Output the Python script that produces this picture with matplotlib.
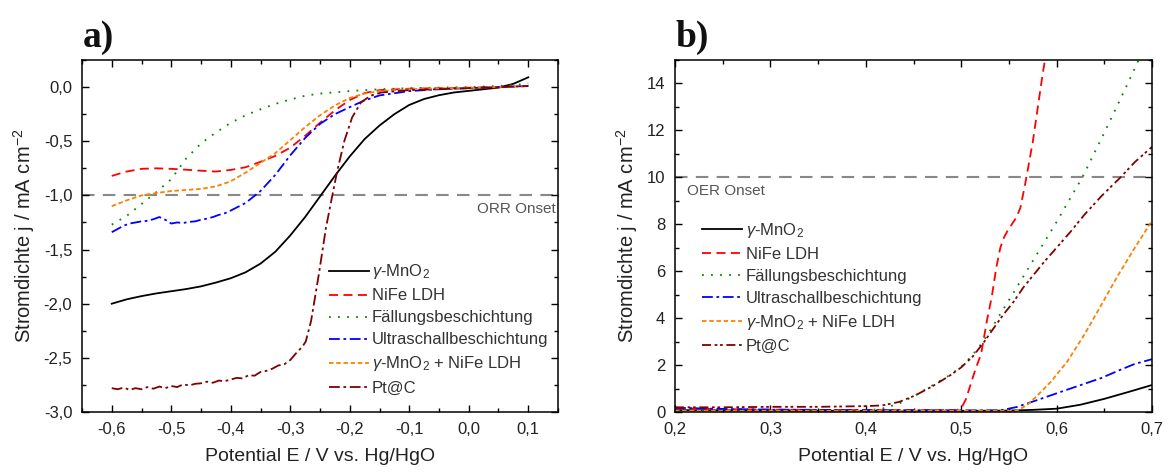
import matplotlib
matplotlib.use("Agg")
import matplotlib.pyplot as plt
from matplotlib.ticker import MultipleLocator, FuncFormatter

plt.rcParams.update({
    "font.family": ["Liberation Sans", "DejaVu Sans"],
    "mathtext.fontset": "custom",
    "mathtext.rm": "Liberation Sans",
    "mathtext.it": "Liberation Sans:italic",
    "mathtext.default": "regular",
    "axes.unicode_minus": False,
})

# ---------------- ORR (panel a) ----------------
orr_mno2_x = [-0.6, -0.575, -0.55, -0.525, -0.5, -0.475, -0.45, -0.425, -0.4, -0.375,
              -0.35, -0.325, -0.3, -0.275, -0.25, -0.225, -0.2, -0.175, -0.15, -0.125,
              -0.1, -0.075, -0.05, -0.025, 0.0, 0.025, 0.05, 0.075, 0.1]
orr_mno2_y = [-2.0, -1.96, -1.93, -1.905, -1.885, -1.865, -1.84, -1.805, -1.765, -1.71,
              -1.63, -1.52, -1.37, -1.2, -1.01, -0.82, -0.64, -0.48, -0.355, -0.25,
              -0.165, -0.11, -0.075, -0.05, -0.035, -0.02, -0.005, 0.03, 0.09]

orr_nife_x = [-0.6, -0.575, -0.55, -0.525, -0.5, -0.475, -0.45, -0.425, -0.4, -0.375,
              -0.35, -0.325, -0.3, -0.275, -0.25, -0.225, -0.2, -0.175, -0.15, -0.1,
              -0.05, 0.0, 0.05, 0.1]
orr_nife_y = [-0.82, -0.78, -0.755, -0.75, -0.755, -0.763, -0.772, -0.78, -0.765, -0.74,
              -0.69, -0.635, -0.56, -0.45, -0.33, -0.215, -0.12, -0.055, -0.028, -0.015,
              -0.01, -0.006, -0.002, 0.01]

orr_faell_x = [-0.6, -0.575, -0.55, -0.525, -0.5, -0.475, -0.45, -0.425, -0.4, -0.375,
               -0.35, -0.325, -0.3, -0.275, -0.25, -0.2, -0.15, -0.1, -0.05, 0.0, 0.05, 0.1]
orr_faell_y = [-1.27, -1.19, -1.08, -0.97, -0.85, -0.66, -0.52, -0.42, -0.33, -0.26,
               -0.205, -0.155, -0.115, -0.08, -0.06, -0.037, -0.02, -0.01, -0.005, 0.0, 0.01, 0.03]

orr_ultra_x = [-0.6, -0.59, -0.58, -0.57, -0.56, -0.55, -0.54, -0.53, -0.52, -0.51,
               -0.5, -0.49, -0.48, -0.47, -0.46, -0.45, -0.44, -0.43, -0.42, -0.41,
               -0.4, -0.375, -0.35, -0.325, -0.3, -0.275, -0.25, -0.225, -0.2, -0.175,
               -0.15, -0.1, -0.05, 0.0, 0.05, 0.1]
orr_ultra_y = [-1.34, -1.31, -1.28, -1.26, -1.25, -1.24, -1.235, -1.22, -1.2, -1.225,
               -1.26, -1.25, -1.255, -1.245, -1.24, -1.225, -1.215, -1.2, -1.18, -1.165,
               -1.14, -1.07, -0.96, -0.81, -0.63, -0.47, -0.34, -0.25, -0.185, -0.123,
               -0.077, -0.037, -0.02, -0.01, 0.0, 0.01]

orr_mix_x = [-0.6, -0.575, -0.55, -0.525, -0.5, -0.475, -0.45, -0.425, -0.4, -0.375,
             -0.35, -0.325, -0.3, -0.275, -0.25, -0.225, -0.2, -0.175, -0.15, -0.1,
             -0.05, 0.0, 0.05, 0.1]
orr_mix_y = [-1.10, -1.046, -1.0, -0.978, -0.96, -0.95, -0.94, -0.917, -0.87, -0.79,
             -0.70, -0.61, -0.49, -0.37, -0.26, -0.17, -0.1, -0.06, -0.037, -0.02,
             -0.012, -0.006, 0.0, 0.01]

orr_pt_x = [-0.6, -0.59, -0.58, -0.57, -0.56, -0.55, -0.54, -0.53, -0.52, -0.51,
            -0.5, -0.49, -0.48, -0.47, -0.46, -0.45, -0.44, -0.43, -0.42, -0.41,
            -0.4, -0.39, -0.38, -0.37, -0.36, -0.35, -0.34, -0.33, -0.32, -0.31,
            -0.3, -0.289, -0.28, -0.274, -0.265, -0.252, -0.24, -0.23, -0.221, -0.209,
            -0.196, -0.181, -0.165, -0.147, -0.1, -0.05, 0.0, 0.05, 0.1]
orr_pt_y = [-2.78, -2.79, -2.775, -2.795, -2.78, -2.79, -2.77, -2.785, -2.765, -2.78,
            -2.76, -2.77, -2.745, -2.755, -2.74, -2.735, -2.72, -2.73, -2.71, -2.715,
            -2.70, -2.685, -2.69, -2.66, -2.665, -2.63, -2.62, -2.6, -2.57, -2.56,
            -2.52, -2.45, -2.40, -2.35, -2.16, -1.73, -1.30, -1.02, -0.774, -0.496,
            -0.28, -0.14, -0.08, -0.05, -0.028, -0.02, -0.01, 0.0, 0.01]

# ---------------- OER (panel b) ----------------
oer_mno2_x = [0.2, 0.3, 0.4, 0.5, 0.55, 0.575, 0.6, 0.625, 0.65, 0.675, 0.7]
oer_mno2_y = [0.08, 0.06, 0.05, 0.05, 0.06, 0.09, 0.14, 0.31, 0.56, 0.85, 1.15]

oer_nife_x = [0.2, 0.3, 0.4, 0.495, 0.5, 0.505, 0.514, 0.521, 0.527, 0.532, 0.537,
              0.541, 0.545, 0.549, 0.558, 0.562, 0.567, 0.571, 0.575, 0.58, 0.585, 0.589]
oer_nife_y = [0.15, 0.1, 0.08, 0.08, 0.15, 0.55, 1.7, 2.5, 3.9, 4.9, 6.2,
              7.0, 7.45, 7.75, 8.3, 8.7, 9.7, 10.6, 11.5, 12.9, 14.3, 15.3]

oer_faell_x = [0.2, 0.3, 0.4, 0.417, 0.435, 0.452, 0.47, 0.488, 0.5, 0.512, 0.523,
               0.534, 0.555, 0.576, 0.6, 0.627, 0.65, 0.67, 0.686]
oer_faell_y = [0.05, 0.05, 0.06, 0.14, 0.36, 0.71, 1.14, 1.57, 1.93, 2.43, 3.0,
               3.71, 5.1, 6.5, 8.1, 10.0, 11.9, 13.6, 15.0]

oer_ultra_x = [0.2, 0.25, 0.3, 0.4, 0.5, 0.541, 0.558, 0.569, 0.594, 0.611, 0.629,
               0.647, 0.664, 0.682, 0.7]
oer_ultra_y = [0.18, 0.13, 0.1, 0.08, 0.07, 0.07, 0.21, 0.36, 0.71, 0.95, 1.2,
               1.45, 1.75, 2.05, 2.25]

oer_mix_x = [0.2, 0.5, 0.558, 0.569, 0.58, 0.594, 0.611, 0.629, 0.647, 0.664, 0.682, 0.7]
oer_mix_y = [0.05, 0.05, 0.05, 0.29, 0.71, 1.29, 2.14, 3.29, 4.57, 5.8, 7.0, 8.15]

oer_pt_x = [0.2, 0.25, 0.3, 0.35, 0.4, 0.417, 0.435, 0.452, 0.47, 0.488, 0.5, 0.512,
            0.523, 0.534, 0.544, 0.555, 0.565, 0.576, 0.587, 0.6, 0.615, 0.629, 0.647,
            0.667, 0.682, 0.7]
oer_pt_y = [0.2, 0.2, 0.22, 0.22, 0.25, 0.28, 0.43, 0.71, 1.1, 1.55, 1.9, 2.36,
            2.93, 3.57, 4.14, 4.7, 5.3, 5.85, 6.4, 7.0, 7.7, 8.4, 9.2,
            10.0, 10.65, 11.3]

labels = [r"$\mathit{\gamma}$-MnO$_2$", "NiFe LDH", "Fällungsbeschichtung",
          "Ultraschallbeschichtung", r"$\mathit{\gamma}$-MnO$_2$ + NiFe LDH", "Pt@C"]
colors = ["#000000", "#ff0000", "#008a00", "#0000ff", "#ff8000", "#800000"]
styles_a = ["-", (0, (5, 3)), (0, (1, 4)), (0, (6, 2, 1.5, 2)), (0, (2.5, 1.5)),
            (0, (6, 2, 1.5, 2))]
styles_b = ["-", (0, (5, 3)), (0, (1, 4)), (0, (6, 2, 1.5, 2)), (0, (2.5, 1.5)),
            (0, (5, 2, 1.5, 1.5, 1.5, 2))]

orr_series = [(orr_mno2_x, orr_mno2_y), (orr_nife_x, orr_nife_y), (orr_faell_x, orr_faell_y),
              (orr_ultra_x, orr_ultra_y), (orr_mix_x, orr_mix_y), (orr_pt_x, orr_pt_y)]
oer_series = [(oer_mno2_x, oer_mno2_y), (oer_nife_x, oer_nife_y), (oer_faell_x, oer_faell_y),
              (oer_ultra_x, oer_ultra_y), (oer_mix_x, oer_mix_y), (oer_pt_x, oer_pt_y)]

TEXT = "#222222"
W, H = 1168, 473
fig = plt.figure(figsize=(W / 100, H / 100), dpi=100)
ax_a = fig.add_axes([82 / W, 1 - 412 / H, 476 / W, 352 / H])
ax_b = fig.add_axes([675 / W, 1 - 412 / H, 477 / W, 352 / H])


def comma(decimals):
    def fmt(v, pos):
        if abs(v) < 1e-9:
            v = 0.0
        return f"{v:.{decimals}f}".replace(".", ",")
    return FuncFormatter(fmt)


def style_axes(ax):
    for s in ax.spines.values():
        s.set_linewidth(1.1)
    ax.tick_params(which="both", direction="in", top=True, right=True,
                   labelsize=12, labelcolor=TEXT, width=1.0)
    ax.tick_params(which="major", length=5, pad=7)
    ax.tick_params(which="minor", length=3)
    ax.set_xlabel("Potential E / V vs. Hg/HgO", fontsize=14, color=TEXT, labelpad=8)
    ax.set_ylabel("Stromdichte j / mA cm$^{-2}$", fontsize=14.5, color=TEXT, labelpad=5)


def add_legend(ax, anchor):
    leg = ax.legend(frameon=False, loc="upper left", bbox_to_anchor=anchor,
                    handlelength=2.4, handletextpad=0.2, labelspacing=0.42,
                    borderpad=0, borderaxespad=0, fontsize=12)
    for t in leg.get_texts():
        t.set_color("#333333")


for (x, y), lab, c, ls in zip(orr_series, labels, colors, styles_a):
    ax_a.plot(x, y, color=c, ls=ls, lw=1.3, label=lab)
ax_a.axhline(-1.0, color="#888888", ls=(0, (6, 4)), lw=1.5, zorder=0)
ax_a.text(0.147, -1.06, "ORR Onset", ha="right", va="top", fontsize=11, color="#555555")
ax_a.set_xlim(-0.65, 0.15)
ax_a.set_ylim(-3.0, 0.25)
ax_a.xaxis.set_major_locator(MultipleLocator(0.1))
ax_a.xaxis.set_minor_locator(MultipleLocator(0.05))
ax_a.yaxis.set_major_locator(MultipleLocator(0.5))
ax_a.yaxis.set_minor_locator(MultipleLocator(0.25))
ax_a.xaxis.set_major_formatter(comma(1))
ax_a.yaxis.set_major_formatter(comma(1))
style_axes(ax_a)
add_legend(ax_a, (0.518, 0.425))

for (x, y), lab, c, ls in zip(oer_series, labels, colors, styles_b):
    ax_b.plot(x, y, color=c, ls=ls, lw=1.3, label=lab)
ax_b.axhline(10.0, color="#888888", ls=(0, (6, 4)), lw=1.5, zorder=0)
ax_b.text(0.213, 9.7, "OER Onset", ha="left", va="top", fontsize=11, color="#555555")
ax_b.set_xlim(0.2, 0.7)
ax_b.set_ylim(0, 15)
ax_b.xaxis.set_major_locator(MultipleLocator(0.1))
ax_b.xaxis.set_minor_locator(MultipleLocator(0.05))
ax_b.yaxis.set_major_locator(MultipleLocator(2))
ax_b.yaxis.set_minor_locator(MultipleLocator(1))
ax_b.xaxis.set_major_formatter(comma(1))
ax_b.yaxis.set_major_formatter(comma(0))
style_axes(ax_b)
add_legend(ax_b, (0.057, 0.542))

for xpos, lab in [(83, "a)"), (676, "b)")]:
    fig.text(xpos / W, 1 - 47 / H, lab, fontfamily="Liberation Serif",
             fontweight="bold", fontsize=27, va="baseline", ha="left", color="#111111")

fig.savefig("out.png", dpi=100)
